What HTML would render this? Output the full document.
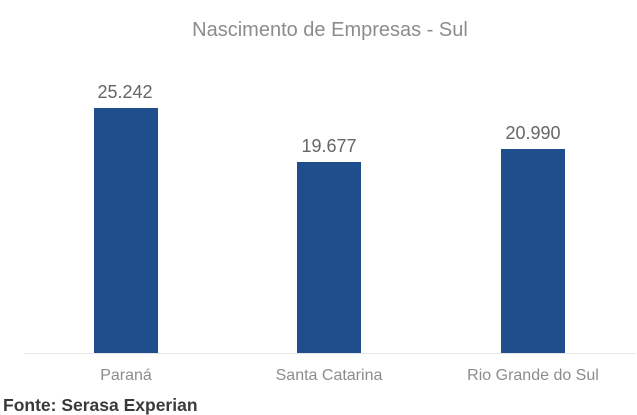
<!DOCTYPE html>
<html><head><meta charset="utf-8"><style>
html,body{margin:0;padding:0;background:#fff;width:637px;height:415px;overflow:hidden}
svg{display:block;font-family:"Liberation Sans",Arial,sans-serif}
</style></head><body>
<svg width="637" height="415" viewBox="0 0 637 415">
<text x="330" y="36" text-anchor="middle" font-size="20" fill="#8c8c8c">Nascimento de Empresas - Sul</text>
<line x1="24" y1="353.5" x2="636" y2="353.5" stroke="#e6e6e6" stroke-width="1"/>
<rect x="94" y="108" width="64" height="245" fill="#1e4e8c"/>
<rect x="297" y="162" width="64" height="191" fill="#1e4e8c"/>
<rect x="501" y="149" width="64" height="204" fill="#1e4e8c"/>
<g font-size="18" fill="#666" text-anchor="middle">
<text x="125" y="98">25.242</text>
<text x="329" y="152">19.677</text>
<text x="533" y="139">20.990</text>
</g>
<g font-size="16" fill="#8c8c8c" text-anchor="middle">
<text x="126" y="380">Paraná</text>
<text x="329" y="380">Santa Catarina</text>
<text x="533" y="380">Rio Grande do Sul</text>
</g>
<text x="3" y="411" font-size="17.5" font-weight="bold" fill="#3a3a3a">Fonte: Serasa Experian</text>
</svg>
</body></html>
